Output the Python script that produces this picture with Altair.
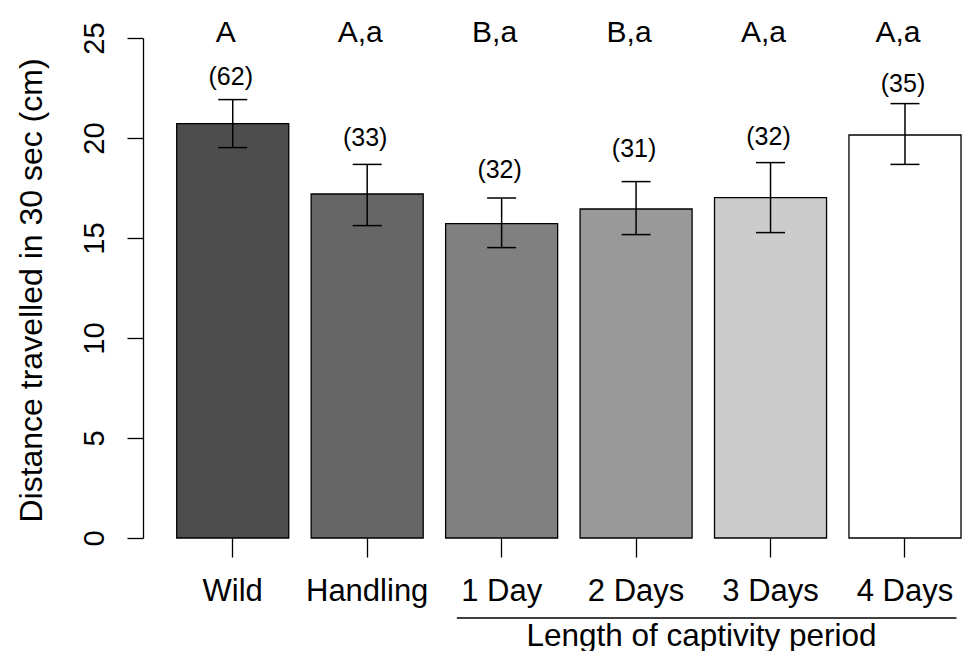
import altair as alt
import pandas as pd

categories = ["Wild", "Handling", "1 Day", "2 Days", "3 Days", "4 Days"]
means = [20.72, 17.20, 15.72, 16.45, 17.02, 20.15]
err_hi = [21.92, 18.68, 17.00, 17.82, 18.77, 21.72]
err_lo = [19.52, 15.62, 14.52, 15.17, 15.27, 18.68]
n_labels = ["(62)", "(33)", "(32)", "(31)", "(32)", "(35)"]
n_label_y = [23.05, 20.0, 18.4, 19.45, 20.05, 22.7]
letters = ["A", "A,a", "B,a", "B,a", "A,a", "A,a"]
fills = ["#4d4d4d", "#666666", "#808080", "#999999", "#cccccc", "#ffffff"]

group_start = ["1 Day"]
group_end = ["4 Days"]

df = pd.DataFrame({
    "cat": categories, "mean": means, "hi": err_hi, "lo": err_lo,
    "n": n_labels, "ny": n_label_y, "letter": letters, "fill": fills,
})
grp = pd.DataFrame({"cat": group_start, "cat_end": group_end})

FONT = "Liberation Sans"

xscale = alt.Scale(domain=categories, paddingInner=0.1667, paddingOuter=0.1328, align=0.944)
yscale = alt.Scale(domain=[0, 25], nice=False, zero=True)

xaxis = alt.Axis(
    domain=False, ticks=True, tickSize=19, tickColor="black", tickWidth=1.3,
    labelFontSize=31, labelFont=FONT, labelColor="black", labelPadding=43,
    labelBaseline="alphabetic", labelAngle=0, labelOverlap=False, labelBound=False,
    title="Length of captivity period", titleFont=FONT, titleFontSize=31.5,
    titleFontWeight="normal", titleColor="black", titleX=558, titleY=107,
    titleBaseline="alphabetic", titleAlign="center", grid=False,
)
yaxis = alt.Axis(
    values=[0, 5, 10, 15, 20, 25], domain=True, domainColor="black", domainWidth=1.3,
    tickSize=16, tickColor="black", tickWidth=1.3, grid=False,
    labelAngle=270, labelAlign="center", labelBaseline="alphabetic", labelPadding=24,
    labelFontSize=29, labelFont=FONT, labelColor="black",
    title="Distance travelled in 30 sec (cm)", titleFont=FONT, titleFontSize=32,
    titleFontWeight="normal", titleColor="black", titleAngle=270, titleX=-102, titleY=252,
    titleBaseline="alphabetic", titleAlign="center",
)

base = alt.Chart(df)
x = alt.X("cat:N", scale=xscale, axis=xaxis)

bars = base.mark_bar(stroke="black", strokeWidth=1.3).encode(
    x=x,
    y=alt.Y("mean:Q", scale=yscale, axis=yaxis),
    color=alt.Color("fill:N", scale=None),
)
err = base.mark_rule(color="black", strokeWidth=1.5).encode(
    x=x, y=alt.Y("lo:Q"), y2="hi:Q"
)
cap_hi = base.mark_tick(color="black", thickness=1.5, size=29, opacity=1).encode(
    x=x, y=alt.Y("hi:Q")
)
cap_lo = base.mark_tick(color="black", thickness=1.5, size=29, opacity=1).encode(
    x=x, y=alt.Y("lo:Q")
)
nlab = base.mark_text(font=FONT, fontSize=25, baseline="middle", dx=-2, color="black").encode(
    x=x, y=alt.Y("ny:Q"), text="n:N"
)
let = base.mark_text(font=FONT, fontSize=30, baseline="alphabetic", dx=-7, color="black").encode(
    x=x, y=alt.value(4), text="letter:N"
)
bracket = alt.Chart(grp).mark_rule(color="black", strokeWidth=1.5).encode(
    x=alt.X("cat:N", bandPosition=0.10),
    x2=alt.X2("cat_end", bandPosition=0.96),
    y=alt.value(580),
)

chart = alt.layer(bars, err, cap_hi, cap_lo, nlab, let, bracket).properties(
    width=820, height=500,
    autosize=alt.AutoSizeParams(type="none"),
    padding={"left": 135, "top": 30, "right": 0, "bottom": 113},
    background="white",
).configure_view(stroke=None)

chart.save("out.html", embed_options={"renderer": "svg", "actions": False})
